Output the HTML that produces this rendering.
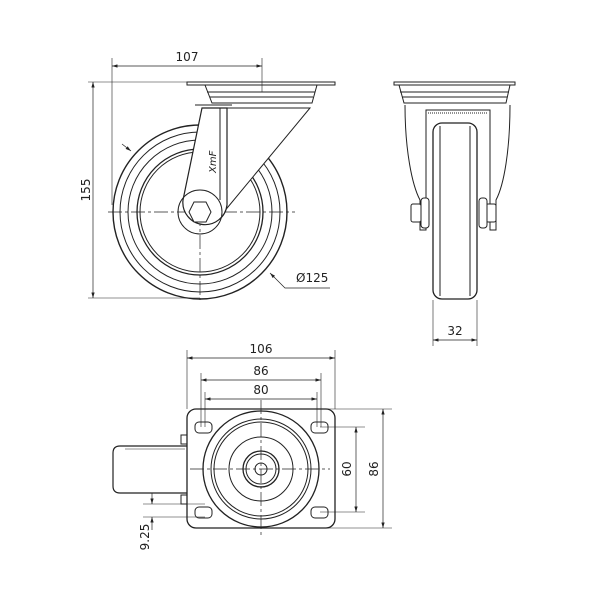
<!DOCTYPE html>
<html><head><style>html,body{margin:0;padding:0;background:#fff}svg{display:block}text{font-family:"DejaVu Sans","Liberation Sans",sans-serif;font-size:12px;fill:#222}</style></head><body>
<svg width="600" height="600" viewBox="0 0 600 600" xmlns="http://www.w3.org/2000/svg">
<defs><marker id="a" viewBox="0 0 10 6" refX="10" refY="3" markerWidth="8" markerHeight="5" orient="auto-start-reverse"><path d="M0,0L10,3L0,6z" fill="#222"/></marker></defs>
<g stroke="#222" fill="none" stroke-width="1">
<!-- SIDE VIEW -->
<circle cx="200" cy="212" r="87" stroke-width="1.4" fill="#fff"/>
<circle cx="200" cy="212" r="80"/>
<circle cx="200" cy="212" r="72"/>
<circle cx="200" cy="212" r="63" stroke-width="1.3"/>
<circle cx="200" cy="212" r="60"/>
<g stroke-dasharray="14,3,3,3" stroke-width="0.7"><line x1="108" y1="212" x2="295" y2="212"/><line x1="200" y1="120" x2="200" y2="300"/></g>
<path d="M227,108 L310,108 L223,213 Z" fill="#fff"/>
<path d="M202,108 L227,108 L227,205 A22,22 0 1 1 183,200 Z" fill="#fff" stroke-width="1.2"/>
<line x1="220" y1="108" x2="220" y2="200"/>
<circle cx="200" cy="212" r="22" fill="none"/>
<polygon points="194,202 206,202 211,212 206,222 194,222 189,212" fill="#fff"/>
<line x1="195" y1="105" x2="232" y2="105"/>
<path d="M205,85 L317,85 L312,103 L212,103 Z" fill="#fff"/>
<line x1="207" y1="92" x2="315" y2="92"/><line x1="210" y1="97" x2="313" y2="97"/>
<rect x="187" y="82" width="148" height="3" fill="#fff"/>
<text x="203" y="180" transform="rotate(-90 206 170)" stroke="none" style="font-size:10px;font-style:italic">XmF</text>
<!-- dims side -->
<line x1="112" y1="58" x2="112" y2="205" stroke-width="0.6"/>
<line x1="262" y1="58" x2="262" y2="92" stroke-width="0.6"/>
<line x1="112" y1="66" x2="262" y2="66" stroke-width="0.7" marker-start="url(#a)" marker-end="url(#a)"/>
<line x1="88" y1="82" x2="187" y2="82" stroke-width="0.6"/>
<line x1="88" y1="298" x2="200" y2="298" stroke-width="0.6"/>
<line x1="93" y1="82" x2="93" y2="298" stroke-width="0.7" marker-start="url(#a)" marker-end="url(#a)"/>
<line x1="122" y1="144" x2="131" y2="151" stroke-width="0.7" marker-end="url(#a)"/>
<polyline points="330,288 285,288 270,273" stroke-width="0.7" marker-end="url(#a)"/>
<!-- FRONT VIEW -->
<path d="M405,105 C405,150 412,185 420,200 L420,230 L426,230 L426,110 L490,110 L490,230 L496,230 L496,200 C504,185 510,150 510,105" fill="#fff"/>
<line x1="426" y1="110" x2="490" y2="110"/>
<line x1="428" y1="113" x2="488" y2="113" stroke-dasharray="1,1"/>
<rect x="433" y="123" width="44" height="176" rx="9" fill="#fff" stroke-width="1.3"/>
<line x1="440" y1="126" x2="440" y2="296"/><line x1="470" y1="126" x2="470" y2="296"/>
<rect x="411" y="204" width="10" height="18" rx="2" fill="#fff"/>
<rect x="421" y="198" width="8" height="30" rx="3" fill="#fff"/>
<rect x="486" y="204" width="10" height="18" rx="2" fill="#fff"/>
<rect x="479" y="198" width="8" height="30" rx="3" fill="#fff"/>
<path d="M399,85 L510,85 L506,103 L404,103 Z" fill="#fff"/>
<line x1="400" y1="92" x2="509" y2="92"/><line x1="402" y1="97" x2="507" y2="97"/>
<rect x="394" y="82" width="121" height="3" fill="#fff"/>
<line x1="433" y1="300" x2="433" y2="346" stroke-width="0.6"/>
<line x1="477" y1="300" x2="477" y2="346" stroke-width="0.6"/>
<line x1="433" y1="340" x2="477" y2="340" stroke-width="0.7" marker-start="url(#a)" marker-end="url(#a)"/>
<!-- BOTTOM VIEW -->
<path d="M187,446 L120,446 Q113,446 113,453 L113,486 Q113,493 120,493 L187,493" fill="#fff" stroke-width="1.2"/>
<line x1="125" y1="449" x2="185" y2="449" stroke-width="0.5"/>
<rect x="181" y="435" width="6" height="9"/><rect x="181" y="495" width="6" height="9"/>
<rect x="187" y="409" width="148" height="119" rx="9" fill="#fff" stroke-width="1.3"/>
<circle cx="261" cy="469" r="58" stroke-width="1.3"/>
<circle cx="261" cy="469" r="50"/>
<circle cx="261" cy="469" r="47"/>
<circle cx="261" cy="469" r="32"/>
<circle cx="261" cy="469" r="18" stroke-width="1.3"/>
<circle cx="261" cy="469" r="15"/>
<circle cx="261" cy="469" r="6"/>
<g fill="#fff"><rect x="195" y="422" width="17" height="11" rx="4"/><rect x="311" y="422" width="17" height="11" rx="4"/><rect x="195" y="507" width="17" height="11" rx="4"/><rect x="311" y="507" width="17" height="11" rx="4"/></g>
<g stroke-dasharray="14,3,3,3" stroke-width="0.7"><line x1="190" y1="469" x2="330" y2="469"/><line x1="261" y1="400" x2="261" y2="535"/></g>
<!-- dims bottom -->
<g stroke-width="0.6">
<line x1="187" y1="350" x2="187" y2="409"/><line x1="335" y1="350" x2="335" y2="409"/>
<line x1="201" y1="373" x2="201" y2="427"/><line x1="321" y1="373" x2="321" y2="427"/>
<line x1="205" y1="392" x2="205" y2="427"/><line x1="317" y1="392" x2="317" y2="427"/>
<line x1="320" y1="427" x2="365" y2="427"/><line x1="320" y1="512" x2="365" y2="512"/>
<line x1="300" y1="409" x2="392" y2="409"/><line x1="300" y1="528" x2="392" y2="528"/>
<line x1="143" y1="504" x2="205" y2="504"/><line x1="143" y1="517" x2="205" y2="517"/>
</g>
<g stroke-width="0.7">
<line x1="187" y1="358" x2="335" y2="358" marker-start="url(#a)" marker-end="url(#a)"/>
<line x1="201" y1="380" x2="321" y2="380" marker-start="url(#a)" marker-end="url(#a)"/>
<line x1="205" y1="399" x2="317" y2="399" marker-start="url(#a)" marker-end="url(#a)"/>
<line x1="356" y1="427" x2="356" y2="512" marker-start="url(#a)" marker-end="url(#a)"/>
<line x1="383" y1="409" x2="383" y2="528" marker-start="url(#a)" marker-end="url(#a)"/>
<line x1="152" y1="493" x2="152" y2="504" marker-end="url(#a)"/>
<line x1="152" y1="530" x2="152" y2="517" marker-end="url(#a)"/>
</g>
</g>
<g stroke="none">
<text x="187" y="61" text-anchor="middle">107</text>
<text x="0" y="0" text-anchor="middle" transform="translate(90,190) rotate(-90)">155</text>
<text x="296" y="282">Ø125</text>
<text x="455" y="335" text-anchor="middle">32</text>
<text x="261" y="353" text-anchor="middle">106</text>
<text x="261" y="375" text-anchor="middle">86</text>
<text x="261" y="394" text-anchor="middle">80</text>
<text x="0" y="0" text-anchor="middle" transform="translate(351,469) rotate(-90)">60</text>
<text x="0" y="0" text-anchor="middle" transform="translate(378,469) rotate(-90)">86</text>
<text x="0" y="0" text-anchor="middle" transform="translate(149,537) rotate(-90)">9.25</text>
</g>
</svg>
</body></html>
